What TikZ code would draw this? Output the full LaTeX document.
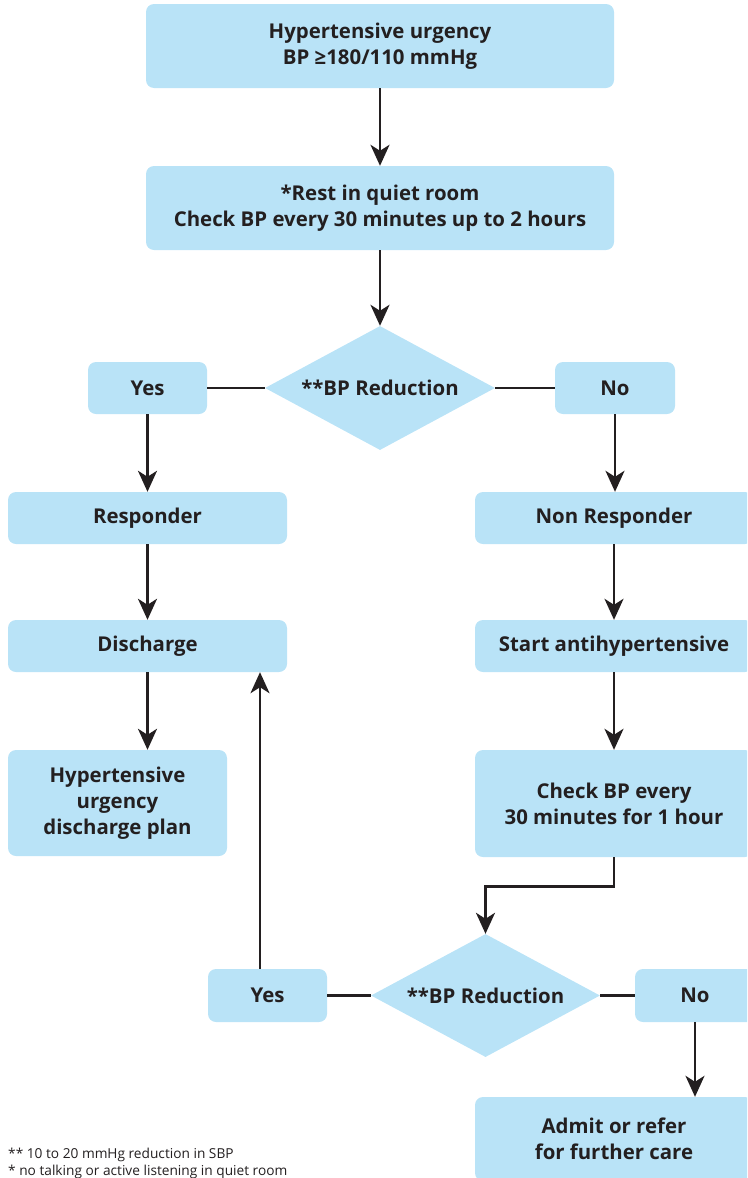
\documentclass[tikz,border=0pt]{standalone}
\usepackage{fontspec}
\setmainfont{Open Sans}
\usetikzlibrary{shapes.geometric,arrows.meta}

\definecolor{boxblue}{HTML}{B9E3F7}
\definecolor{inkdark}{HTML}{231F20}

\tikzset{
  flowbox/.style={fill=boxblue, rounded corners=8pt, align=center, inner sep=0pt,
    text=inkdark, font=\fontsize{20.4}{26}\selectfont\bfseries},
  decision/.style={diamond, fill=boxblue, inner sep=0pt, aspect=1.85,
    text=inkdark, font=\fontsize{20.4}{26}\selectfont\bfseries},
  link/.style={draw=inkdark, line width=2.6pt},
  arr/.style={link, -{Stealth[length=21pt,width=19pt,inset=6pt]}},
  note/.style={anchor=base west, inner sep=0pt, text=inkdark,
    font=\fontsize{13.7}{17}\selectfont}
}

\begin{document}
\begin{tikzpicture}[x=1pt,y=-1pt]
  \clip (0,0) rectangle (747,1178);

  % top of the chart
  \node[flowbox, minimum width=468pt, minimum height=84pt] (urgency) at (380,46)
    {Hypertensive urgency\\BP ≥180/110 mmHg};
  \node[flowbox, minimum width=468pt, minimum height=84pt] (rest) at (380,208)
    {*Rest in quiet room\\Check BP every 30 minutes up to 2 hours};
  \node[decision, minimum width=230pt, minimum height=124pt] (dec1) at (380,388)
    {**BP Reduction};
  \node[flowbox, minimum width=119pt, minimum height=52pt] (yes1) at (147.5,388) {Yes};
  \node[flowbox, minimum width=120pt, minimum height=52pt] (no1) at (615,388) {No};

  % responder branch
  \node[flowbox, minimum width=279pt, minimum height=52pt] (resp) at (147.5,518) {Responder};
  \node[flowbox, minimum width=279pt, minimum height=52pt] (disch) at (147.5,646) {Discharge};
  \node[flowbox, minimum width=219pt, minimum height=106pt] (plan) at (117.5,803)
    {Hypertensive\\urgency\\discharge plan};

  % non responder branch
  \node[flowbox, minimum width=278pt, minimum height=52pt] (nonresp) at (614,518) {Non Responder};
  \node[flowbox, minimum width=278pt, minimum height=52pt] (start) at (614,646) {Start antihypertensive};
  \node[flowbox, minimum width=278pt, minimum height=107pt] (check) at (614,803.5)
    {Check BP every\\30 minutes for 1 hour};
  \node[decision, minimum width=229pt, minimum height=123pt] (dec2) at (485.5,995.5)
    {**BP Reduction};
  \node[flowbox, minimum width=119pt, minimum height=53pt] (yes2) at (267.5,995.5) {Yes};
  \node[flowbox, minimum width=120pt, minimum height=53pt] (no2) at (695,995.5) {No};
  \node[flowbox, minimum width=278pt, minimum height=84pt] (admit) at (614,1139)
    {Admit or refer\\for further care};

  % footnotes
  \node[note] (note1) at (8,1158) {** 10 to 20 mmHg reduction in SBP};
  \node[note] (note2) at (8,1175) {* no talking or active listening in quiet room};

  % connectors
  \draw[arr] (urgency) -- (rest);
  \draw[arr] (rest) -- (dec1);
  \draw[link] (yes1) -- (dec1);
  \draw[link] (dec1) -- (no1);
  \draw[arr] (yes1) -- (resp);
  \draw[arr] (no1.south) -- (no1.south |- nonresp.north);
  \draw[arr] (resp) -- (disch);
  \draw[arr] (disch.south) -- (disch.south |- plan.north);
  \draw[arr] (nonresp) -- (start);
  \draw[arr] (start) -- (check);
  \draw[arr] (check.south) -- ++(0,29) -| (dec2.north);
  \draw[link] (yes2) -- (dec2);
  \draw[link] (dec2) -- (no2);
  \draw[arr] ([xshift=-7.5pt]yes2.north) -- ([xshift=-7.5pt]yes2.north |- disch.south);
  \draw[arr] (no2.south) -- (no2.south |- admit.north);
\end{tikzpicture}
\end{document}
